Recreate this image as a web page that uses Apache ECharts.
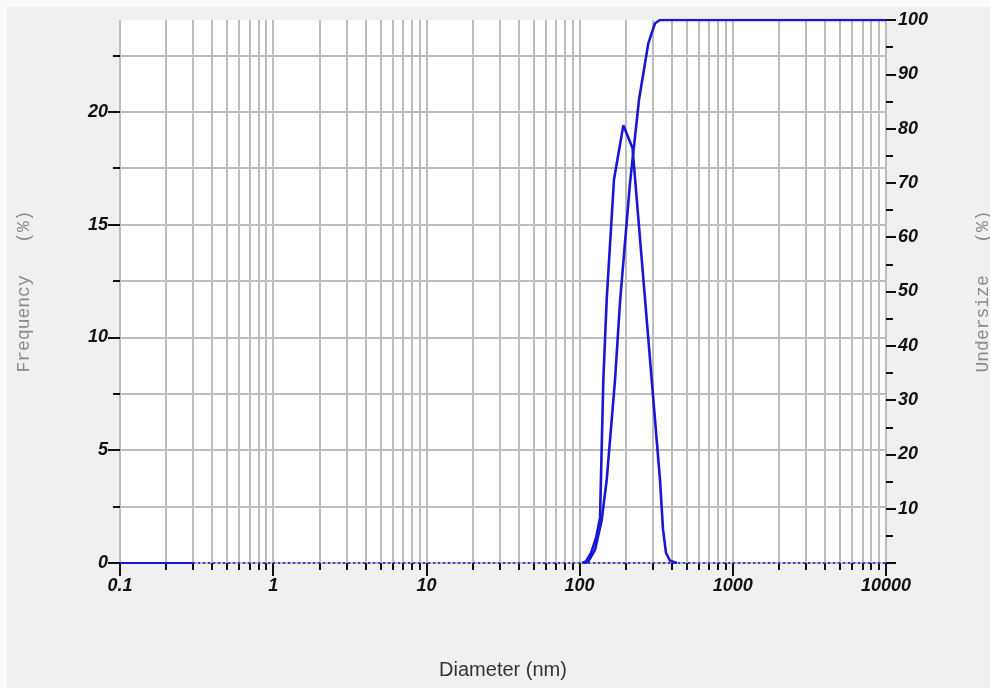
<!DOCTYPE html>
<html><head><meta charset="utf-8">
<script src="https://cdn.jsdelivr.net/npm/echarts@6/dist/echarts.min.js"></script>
<style>
html,body{margin:0;padding:0;background:#fbfbfb;width:990px;height:688px;overflow:hidden;}
#c{position:absolute;left:7px;top:7px;width:983px;height:681px;}
</style></head><body><div id="c"></div>
<script>
// ---- data ----
const freqDiameter = [103.7,110.1,118.7,127.9,135.9,142.8,150.3,167.7,192.9,221.5,334.7,350.2,366.3,389.2,432.3];
const freqValue    = [0,0.07,0.45,1.1,2.0,8.1,11.7,17.0,19.4,18.4,3.7,1.5,0.45,0.1,0];
const underDiameter = [106.8,114.0,126.0,139.4,150.3,170.3,183.5,213.3,244.2,280.8,310.6,334.7,10000];
const underValue    = [0,0.24,2.4,7.9,15.3,33.7,48,70,85.3,95.7,99.4,100,100];
const baselineSolidDiameter  = [0.1,0.3];
const baselineSolidValue     = [0,0];
const baselineDottedDiameter = [0.3,10000];
const baselineDottedValue    = [0,0];
const xTickLabels = ['0.1','1','10','100','1000','10000'];
const leftLabelValues = [0,5,10,15,20];
const leftTickValues = [0,2.5,5,7.5,10,12.5,15,17.5,20,22.5];
const rightLabelValues = [10,20,30,40,50,60,70,80,90,100];
const leftMax = 24.07;
const rightMax = 100;

const zip = (a,b) => a.map((v,i)=>[v,b[i]]);
const grid = '#bdbdbd';
const tickC = '#111';
const lblStyle = {fontFamily:'Liberation Sans',fontStyle:'italic',fontWeight:'bold',fontSize:18,color:'#111'};
const nameStyle = {fontFamily:'Liberation Mono',fontSize:18,color:'#8a8a8a'};
const blue = '#1717d4';

const chart = echarts.init(document.getElementById('c'));
chart.setOption({
  animation:false,
  backgroundColor:'#f0f0f0',
  grid:{left:113,right:104,top:13,bottom:125,show:true,backgroundColor:'#ffffff',borderWidth:0,containLabel:false,outerBoundsMode:'none'},
  xAxis:{
    type:'log',logBase:10,min:0.1,max:10000,
    axisLine:{show:true,lineStyle:{color:grid,width:2}},
    axisTick:{show:true,length:13,lineStyle:{color:tickC,width:2}},
    minorTick:{show:true,splitNumber:9,length:7,lineStyle:{color:tickC,width:2}},
    splitLine:{show:true,lineStyle:{color:grid,width:2}},
    minorSplitLine:{show:true,lineStyle:{color:grid,width:2}},
    axisLabel:Object.assign({margin:14,formatter:v=>xTickLabels[Math.round(Math.log10(v))+1]},lblStyle),
    name:'Diameter (nm)',nameLocation:'middle',nameGap:97,
    nameTextStyle:{fontFamily:'Liberation Sans',fontSize:20,color:'#333'}
  },
  yAxis:[
    {type:'value',position:'left',min:0,max:leftMax,interval:2.5,
     axisLine:{show:false},
     axisTick:{show:true,customValues:leftTickValues,length:7,lineStyle:{color:tickC,width:2}},
     axisLabel:{show:false},
     splitLine:{show:true,lineStyle:{color:grid,width:2}}},
    {type:'value',position:'left',min:0,max:leftMax,
     axisLine:{show:false},
     axisTick:{show:true,customValues:leftLabelValues,length:12,lineStyle:{color:tickC,width:2}},
     axisLabel:Object.assign({customValues:leftLabelValues,margin:12},lblStyle),
     splitLine:{show:false},
     name:'Frequency   (%)',nameLocation:'middle',nameGap:87,nameTextStyle:nameStyle},
    {type:'value',position:'right',min:0,max:rightMax,interval:10,
     axisLine:{show:false},
     axisTick:{show:true,length:10,lineStyle:{color:tickC,width:2}},
     minorTick:{show:true,splitNumber:2,length:7,lineStyle:{color:tickC,width:2}},
     axisLabel:Object.assign({margin:12,formatter:v=>rightLabelValues.indexOf(v)>=0?String(v):''},lblStyle),
     splitLine:{show:false},
     name:'Undersize   (%)',nameLocation:'middle',nameGap:88,nameTextStyle:nameStyle}
  ],
  series:[
    {type:'line',yAxisIndex:0,data:zip(baselineDottedDiameter,baselineDottedValue),symbol:'none',
     lineStyle:{color:'#3434d8',width:1.8,type:[2,3]},z:2},
    {type:'line',yAxisIndex:0,data:zip(baselineSolidDiameter,baselineSolidValue),symbol:'none',
     lineStyle:{color:blue,width:2.2},z:3},
    {type:'line',yAxisIndex:0,data:zip(freqDiameter,freqValue),symbol:'none',
     lineStyle:{color:blue,width:2.6},z:4},
    {type:'line',yAxisIndex:2,data:zip(underDiameter,underValue),symbol:'none',
     lineStyle:{color:blue,width:2.6},z:4}
  ]
});
</script></body></html>
